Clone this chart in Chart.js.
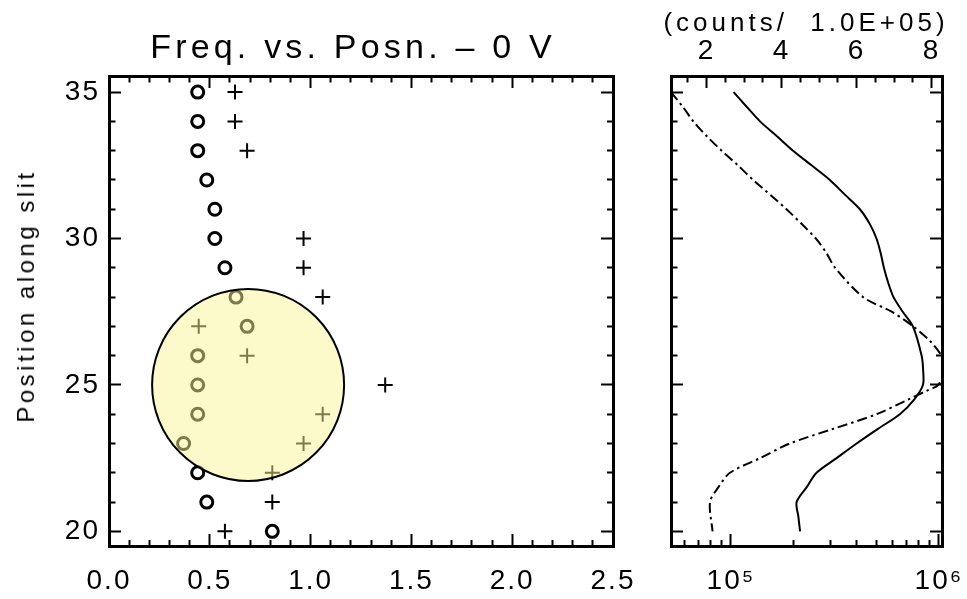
<!DOCTYPE html>
<html lang="en">
<head>
<meta charset="utf-8">
<title>Freq. vs. Posn.</title>
<script src="https://cdn.jsdelivr.net/npm/chart.js@4.4.1/dist/chart.umd.min.js"></script>
<style>
  html, body { margin: 0; padding: 0; background: #fff; }
  #page { position: relative; width: 967px; height: 599px; overflow: hidden;
          font-family: "Liberation Sans", Arial, Helvetica, sans-serif; color: #000; }
  #page canvas { position: absolute; top: 0; }
  .label { position: absolute; line-height: 1; white-space: pre; transform: translate(-50%, -50%); }
  #plotTitle { left: 353px; top: 46px; font-size: 34px; letter-spacing: 4.2px; }
  #posTitle { left: 26px; top: 296px; font-size: 24px; letter-spacing: 3.5px;
              transform: translate(-50%, -50%) rotate(-90deg); }
  #countsTitle { left: 806px; top: 22px; font-size: 26px; letter-spacing: 4px; }
</style>
</head>
<body>
<div id="page">
  <canvas id="freqChart" width="640" height="599" style="left:0"></canvas>
  <canvas id="profileChart" width="327" height="599" style="left:640px"></canvas>
  <div class="label" id="plotTitle">Freq. vs. Posn. – 0 V</div>
  <div class="label" id="posTitle">Position along slit</div>
  <div class="label" id="countsTitle">(counts/  1.0E+05)</div>
</div>
<script>
// rows along the slit, top to bottom
var slitRows = [35, 34, 33, 32, 31, 30, 29, 28, 27, 26, 25, 24, 23, 22, 21, 20];
// fitted frequency of the two components per row (null = no fit)
var freqCircle = [0.44, 0.44, 0.44, 0.485, 0.525, 0.525, 0.575, 0.63, 0.685, 0.44, 0.44, 0.44, 0.37, 0.44, 0.485, 0.81];
var freqPlus = [0.625, 0.625, 0.685, null, null, 0.965, 0.965, 1.06, 0.445, 0.685, 1.37, 1.06, 0.965, 0.81, 0.81, 0.575];
// highlighted region
var highlightFreq = [0.69];
var highlightPos = [25.0];

// intensity profiles along the slit
var solidPos = [35, 34.5, 34, 33.5, 33, 32.5, 32, 31.5, 31, 30.5, 30, 29.5, 29, 28.5, 28, 27.5, 27, 26, 25.5, 25, 24.5, 24, 23.5, 23, 22.5, 22, 21.5, 21, 20.5, 20];
var solidCounts = [1.03e5, 1.19e5, 1.38e5, 1.66e5, 1.99e5, 2.44e5, 2.99e5, 3.53e5, 4.17e5, 4.65e5, 5.01e5, 5.25e5, 5.44e5, 5.7e5, 6.05e5, 6.7e5, 7.5e5, 8.26e5, 8.4e5, 8.38e5, 7.6e5, 6.49e5, 5.09e5, 4.02e5, 3.22e5, 2.58e5, 2.31e5, 2.07e5, 2.11e5, 2.15e5];
var dashPos = [35, 34.5, 34, 33.5, 33, 32.5, 32, 31, 30, 29.5, 29, 28, 27.5, 27, 26.5, 26, 25.6, 25, 24.8, 24.5, 24, 23.5, 23, 22.5, 22, 21.5, 21, 20];
var dashCounts = [5.15e4, 5.87e4, 6.59e4, 7.64e4, 9.02e4, 1.08e5, 1.28e5, 1.85e5, 2.56e5, 2.88e5, 3.17e5, 4.32e5, 5.93e5, 7.52e5, 9.06e5, 1.03e6, 1.08e6, 9.93e5, 8.73e5, 7.11e5, 5.01e5, 3.1e5, 1.92e5, 1.38e5, 9.89e4, 8.69e4, 7.93e4, 8.16e4];

// axis ranges and ticks
var posRange = [19.5, 35.55];
var posTicks = [20, 21, 22, 23, 24, 25, 26, 27, 28, 29, 30, 31, 32, 33, 34, 35];
var posLabels = { 20: '20', 25: '25', 30: '30', 35: '35' };
var freqRange = [0, 2.5];
var freqTicks = [];
for (var i = 0; i <= 25; i++) freqTicks.push(i / 10);
var freqLabels = ['0.0', '0.5', '1.0', '1.5', '2.0', '2.5'];
var countsRange = [5.15e4, 1.035e6];
var countsTicks = [6e4, 7e4, 8e4, 9e4, 1e5, 2e5, 3e5, 4e5, 5e5, 6e5, 7e5, 8e5, 9e5, 1e6];
var countsLabels = { 100000: '10\u2075', 1000000: '10\u2076' };
var scaledRange = [1.05, 8.28];
var scaledTicks = [1.5, 2, 2.5, 3, 3.5, 4, 4.5, 5, 5.5, 6, 6.5, 7, 7.5, 8];
var scaledLabels = { 2: '2', 4: '4', 6: '6', 8: '8' };

Chart.defaults.font.family = '"Liberation Sans", Arial, Helvetica, sans-serif';
Chart.defaults.color = '#000';
Chart.defaults.animation = false;

function toPoints(xs, ys) {
    var pts = [];
    for (var i = 0; i < xs.length; i++) {
        if (xs[i] !== null) pts.push({ x: xs[i], y: ys[i] });
    }
    return pts;
}

// wide letter spacing for the tick labels
var spacedText = {
    id: 'spacedText',
    beforeLayout: function (chart) { chart.ctx.letterSpacing = '2px'; },
    beforeDraw: function (chart) { chart.ctx.letterSpacing = '2px'; }
};

// one side of the plot frame, with ticks pointing inwards
function frameAxis(opts) {
    var pos = opts.position;
    var vertical = pos === 'left' || pos === 'right';
    return {
        type: opts.type || 'linear',
        position: pos,
        min: opts.range[0],
        max: opts.range[1],
        afterFit: function (scale) {
            if (vertical) scale.width = opts.size; else scale.height = opts.size;
            // fixed frame: labels may overhang the plot box
            scale.paddingLeft = scale.paddingRight = 0;
            scale.paddingTop = scale.paddingBottom = 0;
        },
        afterBuildTicks: function (scale) {
            scale.ticks = opts.ticks.map(function (v) { return { value: v }; });
        },
        border: { display: true, color: '#000', width: 3 },
        grid: {
            drawOnChartArea: false,
            lineWidth: 3,
            tickLength: -12,
            tickWidth: 2,
            tickColor: '#000',
            tickBorderDash: function (ctx) {
                if (!ctx.tick || opts.isMajor(ctx.tick.value)) return [];
                return (pos === 'top' || pos === 'left') ? [0, 5.5, 20, 100] : [8, 100];
            }
        },
        ticks: {
            display: !!opts.label,
            autoSkip: false,
            maxRotation: 0,
            minRotation: 0,
            padding: opts.padding || 0,
            font: { size: 28 },
            color: '#000',
            callback: function (v) { return opts.label ? opts.label(v) : ''; }
        }
    };
}

function posMajor(v) { return v % 5 === 0; }
function freqMajor(v) { return Math.round(v * 10) % 5 === 0; }

// left panel: frequency vs position
var ctxFreq = document.getElementById('freqChart').getContext('2d');
var freqChart = new Chart(ctxFreq, {
    type: 'scatter',
    data: {
        datasets: [
            {
                data: toPoints(highlightFreq, highlightPos),
                pointStyle: 'circle',
                pointRadius: 96,
                backgroundColor: 'rgba(250, 246, 150, 0.5)',
                borderColor: '#000',
                borderWidth: 2
            },
            {
                data: toPoints(freqCircle, slitRows),
                pointStyle: 'circle',
                pointRadius: 6,
                borderWidth: 3,
                borderColor: '#000',
                backgroundColor: 'rgba(0, 0, 0, 0)'
            },
            {
                data: toPoints(freqPlus, slitRows),
                pointStyle: 'cross',
                pointRadius: 7.5,
                borderWidth: 2,
                borderColor: '#000'
            }
        ]
    },
    options: {
        responsive: false,
        events: [],
        layout: { padding: 0, autoPadding: false },
        plugins: { legend: { display: false }, tooltip: { enabled: false } },
        scales: {
            x: frameAxis({
                position: 'bottom', size: 53, range: freqRange, ticks: freqTicks, isMajor: freqMajor,
                padding: 30,
                label: function (v) { return freqMajor(v) ? freqLabels[Math.round(v * 2)] : ''; }
            }),
            xTop: frameAxis({ position: 'top', size: 76, range: freqRange, ticks: freqTicks, isMajor: freqMajor }),
            y: frameAxis({
                position: 'left', size: 109, range: posRange, ticks: posTicks, isMajor: posMajor,
                padding: 21,
                label: function (v) { return posLabels[v] || ''; }
            }),
            yRight: frameAxis({ position: 'right', size: 27, range: posRange, ticks: posTicks, isMajor: posMajor })
        }
    },
    plugins: [spacedText]
});

// right panel: counts profiles along the slit
var ctxProfile = document.getElementById('profileChart').getContext('2d');
var profileChart = new Chart(ctxProfile, {
    type: 'scatter',
    data: {
        datasets: [
            {
                data: toPoints(solidCounts, solidPos),
                showLine: true,
                borderColor: '#000',
                borderWidth: 2,
                pointRadius: 0,
                tension: 0.3
            },
            {
                data: toPoints(dashCounts, dashPos),
                showLine: true,
                borderColor: '#000',
                borderWidth: 2,
                borderDash: [10, 4, 2.5, 4],
                pointRadius: 0,
                tension: 0.3
            }
        ]
    },
    options: {
        responsive: false,
        events: [],
        layout: { padding: 0, autoPadding: false },
        plugins: { legend: { display: false }, tooltip: { enabled: false } },
        scales: {
            x: frameAxis({
                type: 'logarithmic', position: 'bottom', size: 53, range: countsRange, ticks: countsTicks,
                isMajor: function (v) { return v === 1e5 || v === 1e6; },
                padding: 30,
                label: function (v) { return countsLabels[v] || ''; }
            }),
            xTop: frameAxis({
                position: 'top', size: 76, range: scaledRange, ticks: scaledTicks,
                isMajor: function (v) { return v % 2 === 0; },
                padding: 20,
                label: function (v) { return scaledLabels[v] || ''; }
            }),
            y: frameAxis({ position: 'left', size: 31, range: posRange, ticks: posTicks, isMajor: posMajor }),
            yRight: frameAxis({ position: 'right', size: 25, range: posRange, ticks: posTicks, isMajor: posMajor })
        }
    },
    plugins: [spacedText]
});
</script>
</body>
</html>
